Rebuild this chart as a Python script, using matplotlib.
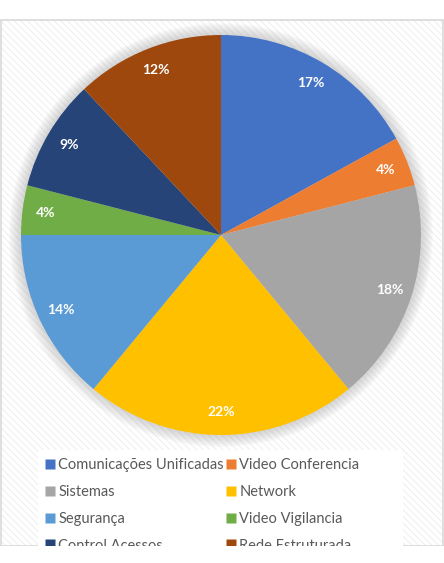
import matplotlib
matplotlib.use("Agg")
import matplotlib.pyplot as plt
from matplotlib.patches import Rectangle, Circle
from matplotlib.lines import Line2D

categories = ["Comunicações Unificadas", "Video Conferencia", "Sistemas", "Network",
              "Segurança", "Video Vigilancia", "Control Acessos", "Rede Estruturada"]
values = [17, 4, 18, 22, 14, 4, 9, 12]
colors = ["#4472C4", "#ED7D31", "#A5A5A5", "#FFC000",
          "#5B9BD5", "#70AD47", "#264478", "#9E480E"]

plt.rcParams['font.family'] = ['Lato', 'DejaVu Sans']
plt.rcParams['hatch.linewidth'] = 0.6

W, H = 444, 563
fig = plt.figure(figsize=(W/100, H/100), dpi=100)
fig.patch.set_facecolor("white")
ax = fig.add_axes([0, 0, 1, 1])
ax.set_xlim(0, W)
ax.set_ylim(0, H)
ax.set_aspect('equal')
ax.axis('off')

# chart area with diagonal pattern
ax.add_patch(Rectangle((0.5, H-546), 442.5, 526, facecolor="white",
                       edgecolor="#ebebeb", hatch="\\\\\\\\\\", lw=0, zorder=0))
ax.add_patch(Rectangle((0.5, H-546), 442.5, 526, facecolor="none",
                       edgecolor="#d9d9d9", lw=1.2, zorder=0.5))
# legend background area
ax.add_patch(Rectangle((38, H-546), 365, 96, facecolor="white", edgecolor="none", zorder=0.6))

cx, cy, R = 221, H-235, 200
# soft shadow
for k in range(10, 0, -1):
    ax.add_patch(Circle((cx, cy), R + k*1.2, facecolor="#999999", edgecolor="none",
                        alpha=0.045, zorder=1))

wedges, texts, autotexts = ax.pie(values, colors=colors, startangle=90, counterclock=False,
       center=(cx, cy), radius=R, autopct='%1.0f%%', pctdistance=0.885,
       wedgeprops=dict(linewidth=0),
       textprops=dict(color="white", fontsize=10, fontweight="bold"))
for w in wedges:
    w.set_zorder(2)
for t in autotexts:
    t.set_zorder(3)
ax.set_xlim(0, W)
ax.set_ylim(0, H)

order = [0, 2, 4, 6, 1, 3, 5, 7]
handles = [Line2D([], [], marker='s', linestyle='none', markersize=6.5,
                  markerfacecolor=colors[i], markeredgecolor='none') for i in order]
labels = [categories[i] for i in order]
leg = fig.legend(handles, labels, ncol=2, loc='upper left',
                 bbox_to_anchor=(38/W, 1-450/H), borderaxespad=0,
                 frameon=True, fancybox=False, facecolor='white', edgecolor='white',
                 framealpha=1, fontsize=10.5, labelcolor="#595959",
                 handlelength=0.6, handletextpad=0.25, columnspacing=0.2,
                 labelspacing=0.88, borderpad=0.55)
leg.get_frame().set_linewidth(0)

# clip bottom (image cut)
fig.add_artist(Rectangle((0, 0), 1, 1-546/H, transform=fig.transFigure,
                         facecolor="white", edgecolor="none", zorder=20))

fig.savefig("out.png", dpi=100, facecolor="white")
